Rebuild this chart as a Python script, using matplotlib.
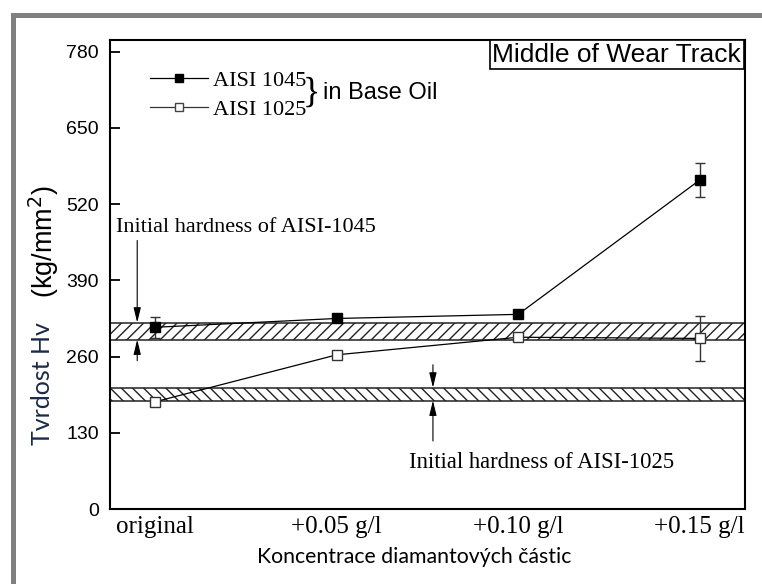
import numpy as np
import matplotlib
matplotlib.use("Agg")
import matplotlib.pyplot as plt
from matplotlib.patches import Rectangle
from matplotlib.lines import Line2D

# categories on the x axis
categories = ['original', '+0.05 g/l', '+0.10 g/l', '+0.15 g/l']
x = np.arange(len(categories))

# hardness values (kg/mm2)
hv_1045 = [310, 325, 332, 561]
err_1045 = [18, 0, 0, 29]
hv_1025 = [183, 263, 293, 291]
err_1025 = [0, 0, 0, 39]

# initial hardness bands
band_1045 = (289, 318)
band_1025 = (185, 207)

yticks = [0, 130, 260, 390, 520, 650, 780]

sans = 'Liberation Sans'
serif = 'Liberation Serif'
calib = ['Lato', 'DejaVu Sans']

fig = plt.figure(figsize=(7.62, 5.84), dpi=100)
ax = fig.add_axes([110/762, 1-509/584, 635/762, 469/584])

# hatched bands
ax.add_patch(Rectangle((-0.25, band_1045[0]), 3.5, band_1045[1]-band_1045[0],
                       fill=False, hatch='///', ec='#222222', lw=1.1, zorder=1))
ax.add_patch(Rectangle((-0.25, band_1025[0]), 3.5, band_1025[1]-band_1025[0],
                       fill=False, hatch='\\\\\\', ec='#222222', lw=1.1, zorder=1))

# data
ax.errorbar(x, hv_1045, yerr=err_1045, fmt='-s', color='black', mfc='black',
            ms=7.5, lw=0.9, capsize=3.6, elinewidth=1, ecolor='#333333', zorder=3)
ax.errorbar(x, hv_1025, yerr=err_1025, fmt='-s', color='black', mfc='white',
            mec='#333333', ms=7, mew=1, lw=0.9, capsize=3.6, elinewidth=1,
            ecolor='#333333', zorder=3)

ax.set_xlim(-0.25, 3.25)
ax.set_ylim(0, 800)
ax.set_yticks(yticks)
ax.set_xticks(x)
ax.set_xticklabels(categories, fontfamily=serif, fontsize=18)
for lab in ax.get_yticklabels():
    lab.set_fontfamily(sans)
    lab.set_fontsize(14)
ax.tick_params(axis='y', direction='in', length=7, width=1.3, pad=8)
ax.tick_params(axis='x', length=0, pad=5)
for s in ax.spines.values():
    s.set_linewidth(1.5)

# annotations of initial hardness
arr = dict(arrowstyle='-|>,head_width=0.22,head_length=0.9', color='black', lw=0.8,
           shrinkA=0, shrinkB=0)
ax.text(-0.215, 481, 'Initial hardness of AISI-1045', fontfamily=serif, fontsize=16,
        va='center', ha='left')
ax.annotate('', xy=(-0.1, band_1045[1]), xytext=(-0.1, 458), arrowprops=arr)
ax.annotate('', xy=(-0.1, band_1045[0]), xytext=(-0.1, 253), arrowprops=arr)
ax.text(1.40, 79, 'Initial hardness of AISI-1025', fontfamily=serif, fontsize=16.3,
        va='center', ha='left')
ax.annotate('', xy=(1.53, band_1025[1]), xytext=(1.53, 246), arrowprops=arr)
ax.annotate('', xy=(1.53, band_1025[0]), xytext=(1.53, 116), arrowprops=arr)

# legend
h1 = Line2D([], [], color='black', marker='s', mfc='black', mec='black', ms=6, lw=0.9)
h2 = Line2D([], [], color='#333333', marker='s', mfc='white', mec='#444444', ms=6,
            mew=1, lw=0.9)
ax.legend([h1, h2], ['AISI 1045', 'AISI 1025'], loc='upper left',
          bbox_to_anchor=(0.063, 0.936), frameon=False,
          prop={'family': serif, 'size': 16}, handlelength=2.6,
          handletextpad=0.25, labelspacing=0.38, borderpad=0, borderaxespad=0)
ax.text(0.304, 0.887, '}', transform=ax.transAxes, fontfamily=serif, fontsize=26,
        va='center', ha='left')
ax.text(0.336, 0.887, 'in Base Oil', transform=ax.transAxes, fontfamily=sans,
        fontsize=17, va='center', ha='left')

# title box
ax.text(0.994, 0.994, 'Middle of Wear Track', transform=ax.transAxes, fontfamily=sans,
        fontsize=19, ha='right', va='top',
        bbox=dict(boxstyle='square,pad=0.1', fc='white', ec='black', lw=1.2))

# axis labels
fig.text(414/762, 1-557/584, 'Koncentrace diamantových částic', fontfamily=calib,
         fontsize=15.3, ha='center', va='center')
fig.text(42/762, 1-384/584, 'Tvrdost Hv', fontfamily=calib, fontsize=18,
         color='#1b2a4a', rotation=90, ha='center', va='center')
fig.text(44/762, 1-242/584, '(kg/mm$^2$)', fontfamily=sans, fontsize=19.5,
         rotation=90, ha='center', va='center')

# grey frame around the picture
fig.add_artist(Rectangle((12.5/762, -0.1), 1.2, 0.1 + 1-15.5/584, fill=False,
                         ec='#808080', lw=3.6, transform=fig.transFigure))

fig.savefig('out.png', dpi=100)
